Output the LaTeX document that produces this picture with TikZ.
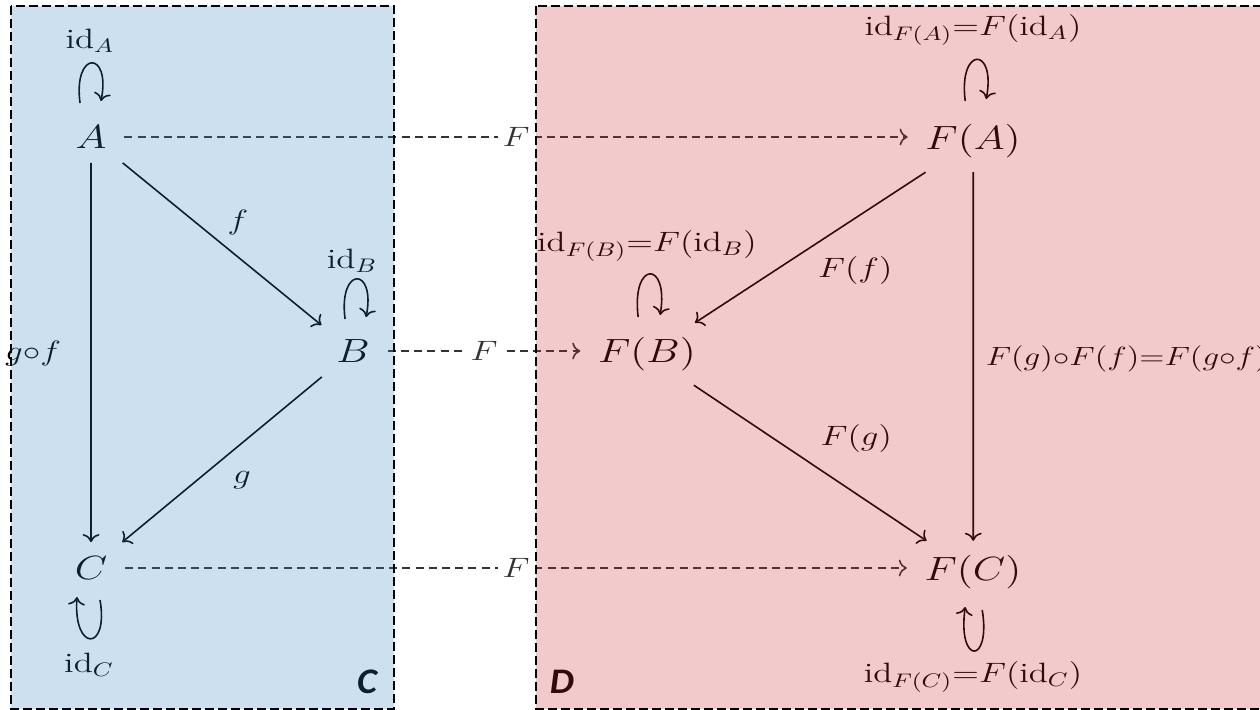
\RequirePackage{fix-cm}
\documentclass[tikz,border=0pt]{standalone}
\usepackage{fontspec}
\newfontfamily\carl{Carlito}
\usetikzlibrary{arrows.meta,calc}
\definecolor{catblue}{RGB}{51,131,195}
\definecolor{catred}{RGB}{203,43,47}
\begin{document}
\begin{tikzpicture}[x=0.4pt,y=-0.5pt,xscale=1.25,transform shape,
  obj/.style={font=\fontsize{16.8}{20}\selectfont, inner sep=7pt},
  lab/.style={font=\fontsize{14}{17}\selectfont, inner sep=1pt},
  flab/.style={font=\fontsize{14}{17}\selectfont, inner sep=2pt, fill=white},
  catlab/.style={font=\carl\bfseries\itshape\fontsize{18}{20}\selectfont, inner sep=0pt, xscale=0.85},
  arr/.style={line width=0.8pt, -{To[scale=1.2]}},
  darr/.style={line width=0.8pt, black!80, dash pattern=on 4pt off 2.6pt, -{To[scale=1.2]}},
  border/.style={line width=1pt, dash pattern=on 4.5pt off 2pt}]
\useasboundingbox (0,0) rectangle (1260,709);
\clip (0,0) rectangle (1260,709);
% objects
\node[obj] (A) at (91,137) {$A$};
\node[obj] (B) at (353,351) {$B$};
\node[obj] (C) at (91,568) {$C$};
\node[obj] (FA) at (973,141) {$F(A)$};
\node[obj] (FB) at (647,354) {$F(B)$};
\node[obj] (FC) at (973,572) {$F(C)$};
% identity labels
\node[lab] (lA) at (90,41) {$\mathrm{id}_A$};
\node[lab] (lB) at (352,261) {$\mathrm{id}_B$};
\node[lab] (lC) at (89,665) {$\mathrm{id}_C$};
\node[lab] (lFA) at (973,30) {$\mathrm{id}_{F(A)}{=}F(\mathrm{id}_A)$};
\node[lab] (lFB) at (647,246) {$\mathrm{id}_{F(B)}{=}F(\mathrm{id}_B)$};
\node[lab] (lFC) at (973,677) {$\mathrm{id}_{F(C)}{=}F(\mathrm{id}_C)$};
% loops
\draw[arr] ($(A)+(-11,-34)$) .. controls +(-7,-53) and +(10,-51) .. ($(A)+(10,-36)$);
\draw[arr] ($(B)+(-8,-32)$) .. controls +(-7,-53) and +(10,-51) .. ($(B)+(13,-34)$);
\draw[arr] ($(FA)+(-8,-40)$) .. controls +(-7,-55) and +(10,-53) .. ($(FA)+(13,-42)$);
\draw[arr] ($(FB)+(-9,-37)$) .. controls +(-7,-57) and +(9,-55) .. ($(FB)+(13,-39)$);
\draw[arr] ($(C)+(9,32)$) .. controls +(9,52) and +(-4,55) .. ($(C)+(-14,29)$);
\draw[arr] ($(FC)+(9,38)$) .. controls +(9,55) and +(-8,58) .. ($(FC)+(-8,35)$);
% morphisms
\draw[arr] (A) -- (B) node[lab, midway, shift={(16,-22)}] {$f$};
\draw[arr] (A) -- (C) node[lab, midway, shift={(-58,1)}] {$g{\circ}f$};
\draw[arr] (B) -- (C) node[lab, midway, shift={(20,21)}] {$g$};
\draw[arr] (FA) -- (FB) node[lab, midway, shift={(45,23)}] {$F(f)$};
\draw[arr] (FB) -- (FC) node[lab, midway, shift={(46,-25)}] {$F(g)$};
\draw[arr] (FA) -- (FC) node[lab, midway, anchor=west, shift={(9,2)}, font=\fontsize{13.2}{16}\selectfont] {$F(g){\circ}F(f){=}F(g{\circ}f)$};
% functor arrows
\draw[darr] (A.east) -- (A.east -| FA.west) node[flab, midway] {$F$};
\draw[darr] (B.east) -- (B.east -| FB.west) node[flab, midway] {$F$};
\draw[darr] (C.east) -- (C.east -| FC.west) node[flab, midway] {$F$};
% category names
\node[catlab] (cC) at (367,682) {C};
\node[catlab] (cD) at (562,682) {D};
% category regions
\fill[catblue, fill opacity=0.25] (11,6) rectangle (394,709);
\fill[catred, fill opacity=0.25] (536,6) rectangle (1275,709);
\draw[border] (11,6) rectangle (394,709);
\draw[border] (536,6) rectangle (1275,709);
\end{tikzpicture}
\end{document}
